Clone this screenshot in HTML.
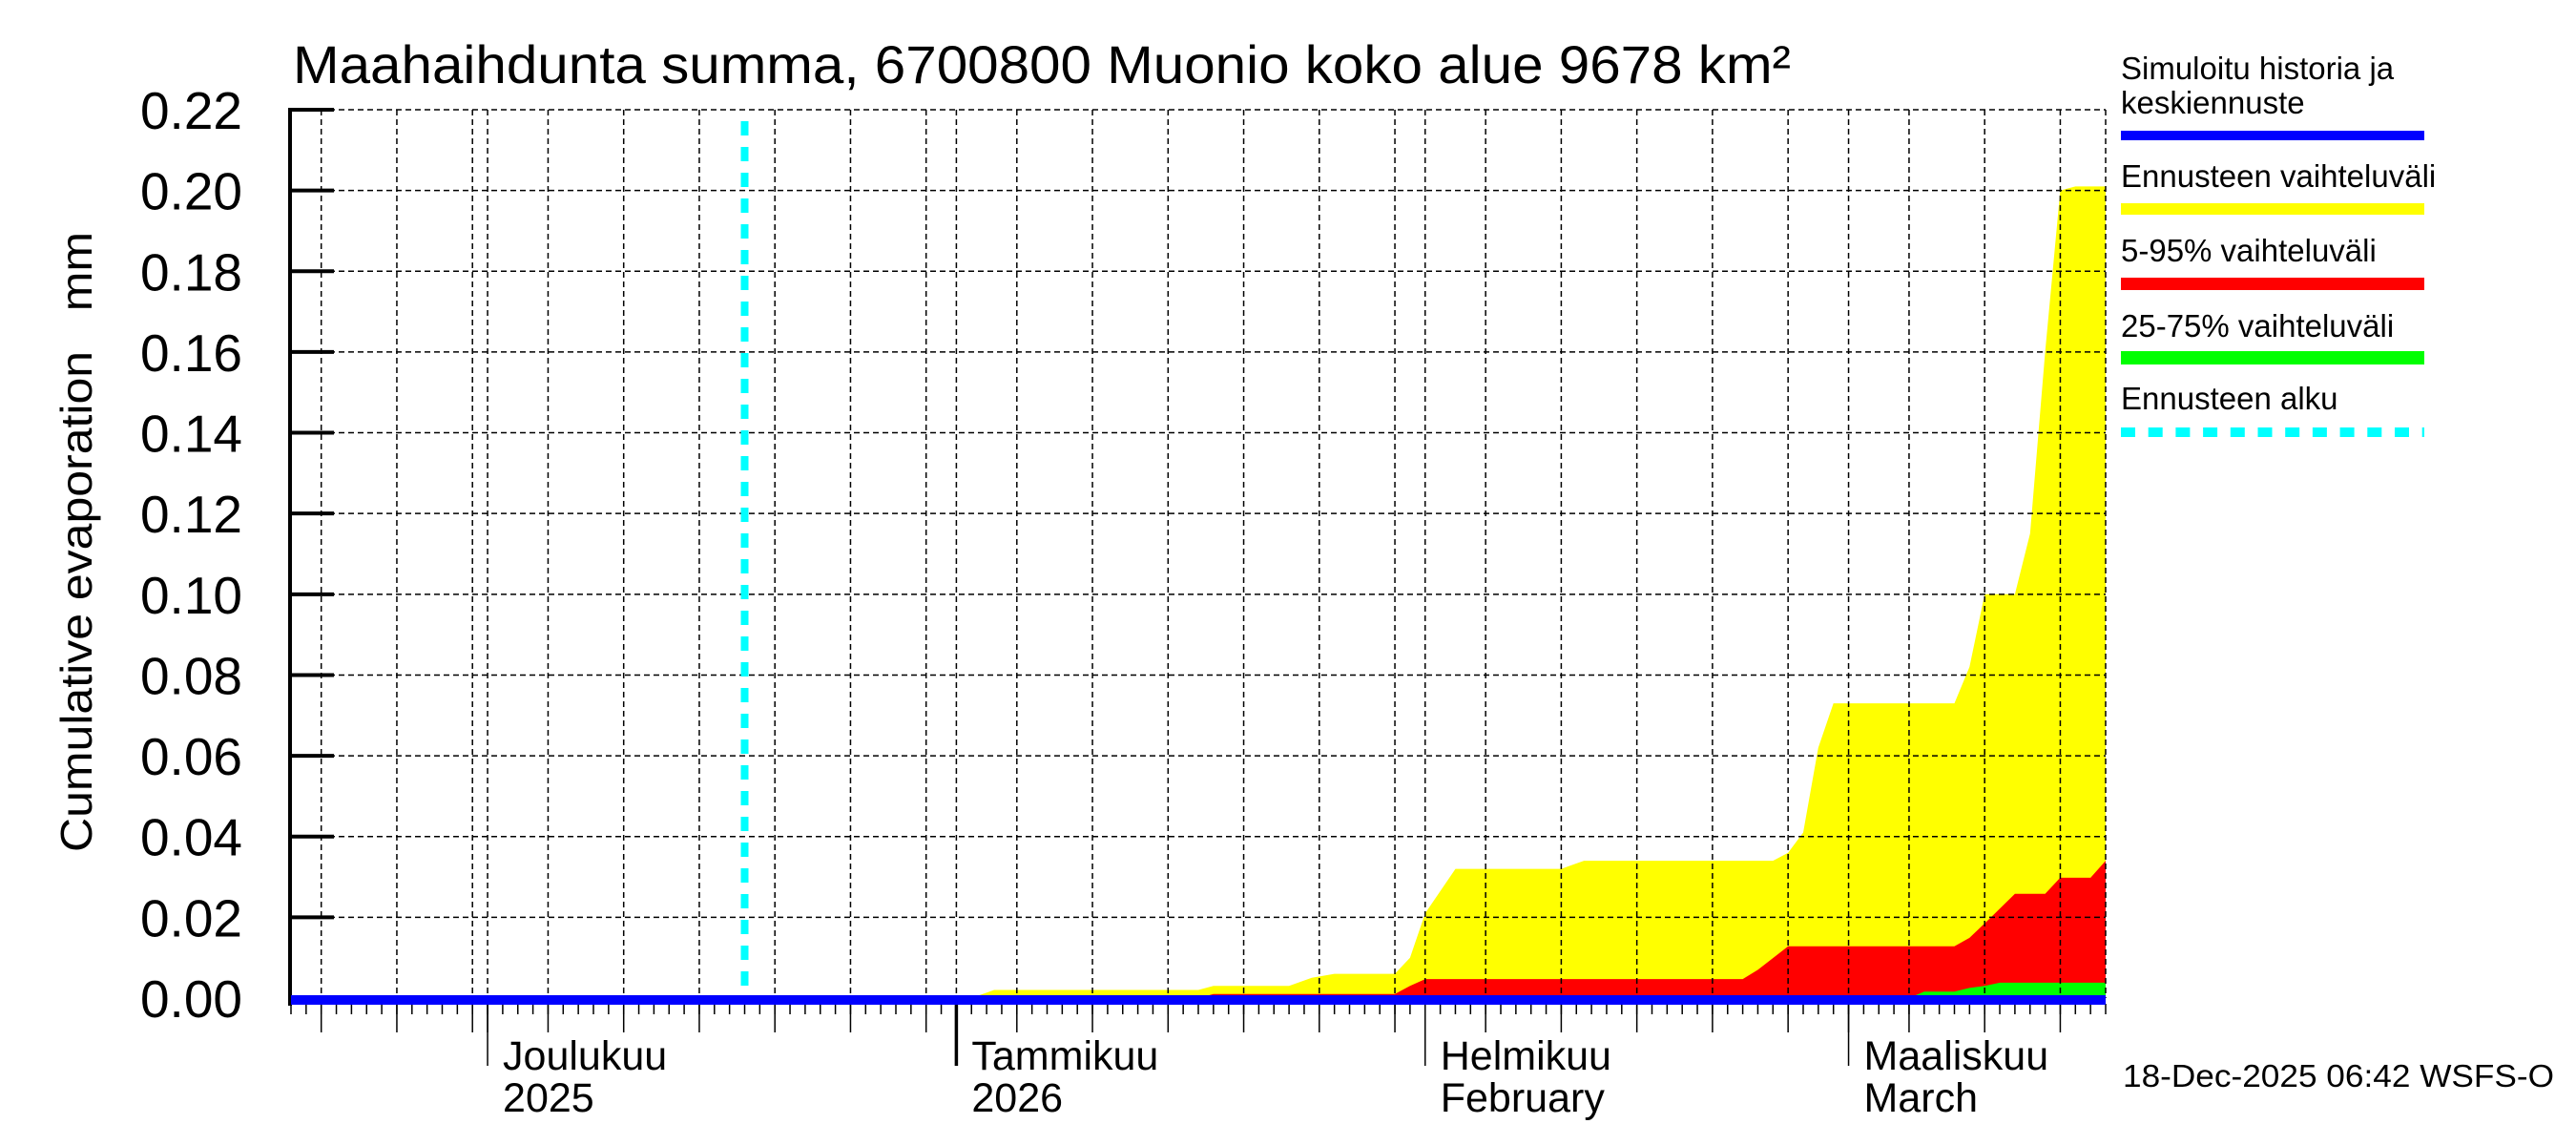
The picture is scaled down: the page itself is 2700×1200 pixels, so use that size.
<!DOCTYPE html>
<html><head><meta charset="utf-8"><style>
html,body{margin:0;padding:0;background:#fff;}
svg{display:block;font-family:"Liberation Sans",sans-serif;}
</style></head><body>
<svg id="chart" width="2700" height="1200" viewBox="0 0 2700 1200" xmlns="http://www.w3.org/2000/svg">
<rect width="2700" height="1200" fill="#fff"/>
<text x="307" y="87" font-size="56" textLength="1570" lengthAdjust="spacingAndGlyphs">Maahaihdunta summa, 6700800 Muonio koko alue 9678 km²</text>
<text transform="translate(96,568) rotate(-90)" text-anchor="middle" font-size="46" textLength="650" lengthAdjust="spacingAndGlyphs">Cumulative evaporation&#160;&#160;&#160;mm</text>
<g id="fills"></g>
<g id="grid"></g>
<g id="axes"></g>
<g id="series"></g>
<g font-size="33">
<text x="2223" y="83">Simuloitu historia ja</text>
<text x="2223" y="119">keskiennuste</text>
<rect x="2223" y="137" width="318" height="10" fill="#0000ff"/>
<text x="2223" y="196">Ennusteen vaihteluväli</text>
<rect x="2223" y="213" width="318" height="12" fill="#ffff00"/>
<text x="2223" y="274">5-95% vaihteluväli</text>
<rect x="2223" y="291" width="318" height="13" fill="#ff0000"/>
<text x="2223" y="353">25-75% vaihteluväli</text>
<rect x="2223" y="368" width="318" height="14" fill="#00ff00"/>
<text x="2223" y="429">Ennusteen alku</text>
<line x1="2223" y1="453" x2="2541" y2="453" stroke="#00ffff" stroke-width="10" stroke-dasharray="15 13.7"/>
</g>
<text x="2225" y="1139" font-size="33" textLength="452" lengthAdjust="spacingAndGlyphs">18-Dec-2025 06:42 WSFS-O</text>
</svg>
<script>
// days counted from 18 Nov 2025
const yellowDays = [0,45,46.5,60,61,66,67.5,69,73,74,75,77,84,85.5,98,99,100,101,102,110,111,112,114,115,116,117,118,120];
const yellowVals = [0,0,0.002,0.002,0.003,0.003,0.005,0.006,0.006,0.01,0.021,0.032,0.032,0.034,0.034,0.036,0.041,0.062,0.073,0.073,0.082,0.1,0.1,0.115,0.16,0.2,0.201,0.201];
const redDays = [0,60,61,73,74,75,96,97,99,110,111,112.3,114,116,117,119,120];
const redVals = [0,0,0.001,0.001,0.003,0.0047,0.0047,0.007,0.0128,0.0128,0.0149,0.0196,0.0258,0.0258,0.0298,0.0298,0.034];
const greenDays = [0,107,108,110,111,112,113,120];
const greenVals = [0,0,0.0016,0.0016,0.0025,0.003,0.0038,0.0038];
const blueDays = [0,120];
const blueVals = [0,0];
const forecastStartDay = 30;
const yTicks = [0,0.02,0.04,0.06,0.08,0.10,0.12,0.14,0.16,0.18,0.20,0.22];
const yTickLabels = ["0.00","0.02","0.04","0.06","0.08","0.10","0.12","0.14","0.16","0.18","0.20","0.22"];
const gridDays = [2,7,12,13,17,22,27,32,37,42,44,48,53,58,63,68,73,75,79,84,89,94,99,103,107,112,117];
const monthDays = [13,44,75,103];
const monthLabels = [["Joulukuu","2025"],["Tammikuu","2026"],["Helmikuu","February"],["Maaliskuu","March"]];
const totalDays = 120;

const NS = "http://www.w3.org/2000/svg";
const X0 = 305, X1 = 2207, Y0 = 1046, YTOP = 115;
function xs(d){ return X0 + d * (X1 - X0) / totalDays; }
function ys(v){ return Y0 - v * (Y0 - YTOP) / 0.22; }
function mk(tag, attrs, parent){
  const e = document.createElementNS(NS, tag);
  for (const k in attrs) e.setAttribute(k, attrs[k]);
  parent.appendChild(e);
  return e;
}
const fills = document.getElementById('fills');
const grid = document.getElementById('grid');
const axes = document.getElementById('axes');
const series = document.getElementById('series');

function band(days, vals, color, name){
  let pts = days.map((d,i)=> xs(d).toFixed(1)+','+ys(vals[i]).toFixed(1));
  pts.push(xs(days[days.length-1]).toFixed(1)+','+ys(0).toFixed(1));
  pts.push(xs(days[0]).toFixed(1)+','+ys(0).toFixed(1));
  const p = mk('polygon', {points: pts.join(' '), fill: color}, fills);
  
  
}
band(yellowDays, yellowVals, '#ffff00', 'forecast-range-band');
band(redDays, redVals, '#ff0000', 'band-5-95');
band(greenDays, greenVals, '#00ff00', 'band-25-75');

yTicks.forEach((v,i)=>{
  if (v > 0) {
    const l = mk('line', {x1:X0, x2:X1, y1:ys(v), y2:ys(v), stroke:'#000', 'stroke-width':1.5, 'stroke-dasharray':'6 4'}, grid);
    
    
  }
  const t = mk('line', {x1:X0-1, x2:350, y1:ys(v), y2:ys(v), stroke:'#000', 'stroke-width':4}, axes);
  
  
  const lb = mk('text', {x:254, y:ys(v)+20, 'text-anchor':'end', 'font-size':55}, axes);
  lb.textContent = yTickLabels[i];
  
  
});
gridDays.concat([totalDays]).forEach(d=>{
  const l = mk('line', {x1:xs(d), x2:xs(d), y1:YTOP, y2:Y0, stroke:'#000', 'stroke-width':1.5, 'stroke-dasharray':'6 4'}, grid);
  
  
});
const ya = mk('line', {x1:X0-1, x2:X0-1, y1:YTOP-2, y2:1054, stroke:'#000', 'stroke-width':4}, axes);


for (let d=0; d<=totalDays; d++){
  const t = mk('line', {x1:xs(d), x2:xs(d), y1:1052, y2:1063, stroke:'#000', 'stroke-width':1.5}, axes);
  
  
}
gridDays.forEach(d=>{
  const t = mk('line', {x1:xs(d), x2:xs(d), y1:1052, y2:1082, stroke:'#000', 'stroke-width':1.5}, axes);
  
  
});
monthDays.forEach((d,i)=>{
  const t = mk('line', {x1:xs(d), x2:xs(d), y1:1052, y2:1117, stroke:'#000', 'stroke-width': i===1 ? 3.5 : 1.5}, axes);
  
  
  const a = mk('text', {x:xs(d)+16, y:1121, 'font-size':43}, axes);
  a.textContent = monthLabels[i][0];
  
  
  const b = mk('text', {x:xs(d)+16, y:1165, 'font-size':43}, axes);
  b.textContent = monthLabels[i][1];
  
  
});
const cy = mk('line', {x1:xs(forecastStartDay), x2:xs(forecastStartDay), y1:127, y2:Y0, stroke:'#00ffff', 'stroke-width':8, 'stroke-dasharray':'15 12'}, series);


const bl = mk('polyline', {points: blueDays.map((d,i)=>xs(d)+','+(ys(blueVals[i])+2)).join(' '), fill:'none', stroke:'#0000ff', 'stroke-width':10}, series);


</script>
</body></html>
